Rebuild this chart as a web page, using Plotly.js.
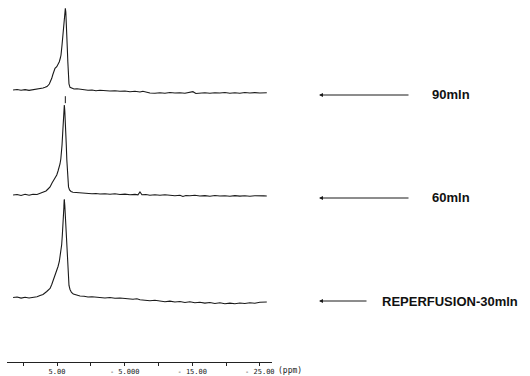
<!DOCTYPE html>
<html><head><meta charset="utf-8">
<script src="https://cdn.plot.ly/plotly-3.0.1.min.js"></script>
<style>html,body{margin:0;padding:0;background:#fff;}#plot{width:530px;height:376px;}</style>
</head><body><div id="plot"></div>
<script>
// Spectrum labels
const labels = ["90mln", "60mln", "REPERFUSION-30mln"];

// Top spectrum (90 min): chemical shift (ppm) and intensity (arbitrary units)
const ppm90 = [11.50,10.91,10.32,9.73,9.14,8.55,7.96,7.51,7.07,6.77,6.48,6.14,5.93,5.78,5.64,5.44,5.30,5.04,4.85,4.66,4.51,4.41,4.26,4.16,4.07,3.97,3.86,3.77,3.70,3.63,3.55,3.48,3.40,3.33,3.23,3.08,2.83,2.49,2.04,1.60,1.01,0.42,-0.17,-0.76,-1.35,-2.09,-2.83,-3.57,-4.31,-5.05,-5.79,-6.53,-7.27,-7.71,-8.15,-8.74,-9.48,-10.22,-10.96,-11.70,-12.44,-13.18,-13.92,-14.65,-15.10,-15.54,-16.13,-16.87,-17.61,-18.35,-19.09,-19.83,-20.57,-21.31,-22.04,-22.78,-23.52,-24.26,-25.00,-25.59,-26.03];
const int90 = [0,0.5,-0.3,0.4,-0.4,0.2,0.7,1.3,2,2.7,3.5,6,9,11.7,15,20,21.7,23.3,25.5,28.3,32,35,45,53.3,65,72,78,81.7,78,70,55,42,28,14,6,2.7,1.7,1,1.3,0.7,0.3,-0.3,0,-0.7,-0.3,-0.8,-1,-0.7,-1.3,-1,-1.7,-1.3,-2,-1.2,-2.3,-3,-3.3,-2.7,-3.3,-2.5,-3,-2.7,-3.3,-2.3,-1.7,-3.5,-3,-2.7,-3.3,-2.7,-3,-2.5,-3.3,-2.7,-3.2,-2.5,-3,-2.6,-3,-2.7,-2.8];

// Middle spectrum (60 min)
const ppm60 = [11.50,10.91,10.32,9.73,9.14,8.55,7.96,7.51,7.07,6.63,6.33,6.03,5.74,5.55,5.30,5.04,4.85,4.70,4.56,4.44,4.34,4.26,4.16,4.08,4.01,3.92,3.85,3.77,3.70,3.63,3.55,3.48,3.40,3.30,3.15,2.93,2.64,2.19,1.60,1.01,0.42,-0.17,-0.76,-1.35,-2.09,-2.83,-3.57,-4.31,-5.05,-5.79,-6.53,-6.97,-7.27,-7.56,-8.15,-8.74,-9.48,-10.22,-10.96,-11.70,-12.44,-13.18,-13.62,-14.06,-14.65,-15.39,-16.13,-16.87,-17.61,-18.35,-19.09,-19.83,-20.57,-21.31,-22.04,-22.78,-23.52,-24.26,-25.00,-25.59,-26.03];
const int60 = [0,0.5,-0.5,0.7,-0.3,0.8,0.5,1.5,2.5,4,6,8,12,14,17,20,24,27,31,36,42,50,62,75,82,90,84,75,62,50,35,22,14,8,5,3.5,2.8,2.5,2.8,2.2,2,1.2,1.5,1,1.3,0.7,1.2,0.5,0.9,0.3,0.6,0.2,3,0.3,0.5,-0.2,0.3,-0.3,0.2,-0.5,-0.8,-0.3,-1.5,-0.5,-0.8,-0.3,-1,-0.6,-1.2,-0.5,-1,-0.7,-1.3,-0.6,-1.1,-0.8,-1.3,-0.7,-1.2,-0.9,-1];

// Bottom spectrum (reperfusion 30 min)
const ppm30 = [11.50,10.91,10.32,9.73,9.14,8.55,7.96,7.51,7.07,6.52,6.03,5.78,5.55,5.30,5.04,4.85,4.66,4.51,4.41,4.31,4.22,4.14,4.07,4.00,3.92,3.85,3.77,3.70,3.63,3.55,3.48,3.40,3.33,3.23,3.08,2.86,2.59,2.09,1.60,1.01,0.42,-0.17,-0.76,-1.35,-2.09,-2.83,-3.57,-4.31,-5.05,-5.79,-6.23,-6.82,-7.27,-8.00,-8.74,-9.48,-10.22,-10.96,-11.70,-12.44,-13.18,-13.92,-14.65,-15.39,-16.13,-16.87,-17.61,-18.35,-19.09,-19.83,-20.57,-21.31,-22.04,-22.78,-23.52,-24.26,-25.00,-25.59,-26.03];
const int30 = [0,0.5,-0.6,0.3,-0.5,0,0.8,2,3,6,9,13,17,23,27,31,36,42,48,53,62,72,82,92,98,92,82,72,63,54,42,30,19,12,8,5,3.5,2.5,1.5,1.2,0.5,0.8,0.2,0.3,-0.5,0,-0.8,-0.5,-1.2,-1.5,-1.8,-1.3,-2.3,-2.8,-3.2,-2.7,-3.8,-4.3,-3.6,-4.5,-4,-5,-4.2,-5.3,-4.8,-5.6,-5,-6,-5.3,-6.2,-5.6,-6.3,-5.5,-6,-5.3,-5.8,-4.8,-5,-4.5];

// Small reference marks under the peaks (ppm, intensity)
const markPpm = [3.77, 3.92];
const markInt = [-9.7, -8];

// X axis ticks
const tickVals = [10, 5, 0, -5, -10, -15, -20, -25];
const tickText = ["", "5.00", "", "- 5.000", "", "- 15.00", "", "- 25.00"];

const W = 530, H = 376;
const lineStyle = {color: '#1a1a1a', width: 1.1};

const traces = [
  {x: ppm90, y: int90, xaxis: 'x', yaxis: 'y', type: 'scatter', mode: 'lines', line: lineStyle, hoverinfo: 'skip'},
  {x: ppm60, y: int60, xaxis: 'x', yaxis: 'y2', type: 'scatter', mode: 'lines', line: lineStyle, hoverinfo: 'skip'},
  {x: ppm30, y: int30, xaxis: 'x', yaxis: 'y3', type: 'scatter', mode: 'lines', line: lineStyle, hoverinfo: 'skip'},
  {x: [markPpm[0]], y: [markInt[0]], xaxis: 'x', yaxis: 'y', type: 'scatter', mode: 'markers', cliponaxis: false,
   marker: {symbol: 'line-ns', size: 5, line: {color: '#1a1a1a', width: 1}}, hoverinfo: 'skip'},
  {x: [markPpm[1]], y: [markInt[1]], xaxis: 'x', yaxis: 'y2', type: 'scatter', mode: 'markers', cliponaxis: false,
   marker: {symbol: 'line-ns', size: 5, line: {color: '#1a1a1a', width: 1}}, hoverinfo: 'skip'}
];

function yax(range, top, bottom) {
  return {range: range, domain: [1 - bottom / H, 1 - top / H], visible: false, fixedrange: true, anchor: 'x'};
}

const arrowY = [95, 198, 301];
const arrowX0 = [319, 319, 319];
const arrowX1 = [410, 410, 368];
const textX = [430, 430, 380];

const annotations = [];
for (let i = 0; i < 3; i++) {
  annotations.push({
    xref: 'paper', yref: 'paper', x: arrowX0[i] / W, y: 1 - arrowY[i] / H,
    ax: arrowX1[i] - arrowX0[i], ay: 0, axref: 'pixel', ayref: 'pixel',
    text: '', showarrow: true, arrowhead: 2, arrowsize: 0.8, arrowwidth: 1, arrowcolor: '#1a1a1a'
  });
  annotations.push({
    xref: 'paper', yref: 'paper', x: textX[i] / W, y: 1 - arrowY[i] / H,
    xanchor: 'left', yanchor: 'middle', showarrow: false, text: labels[i],
    font: {family: 'Liberation Sans, Arial, sans-serif', size: 13, color: '#111', weight: 'bold'}
  });
}
annotations.push({
  xref: 'paper', yref: 'paper', x: 276 / W, y: 1 - 370 / H, xanchor: 'left', yanchor: 'middle',
  showarrow: false, text: '(ppm)', font: {family: 'DejaVu Sans Mono, monospace', size: 8, color: '#222'}
});

const layout = {
  width: W, height: H,
  margin: {l: 0, r: 0, t: 0, b: 0},
  paper_bgcolor: '#fff', plot_bgcolor: 'rgba(0,0,0,0)',
  showlegend: false,
  xaxis: {
    range: [12.4, -26.8], domain: [7 / W, 272 / W], anchor: 'free', position: 1 - 362 / H,
    showline: true, linecolor: '#222', linewidth: 1, showgrid: false, zeroline: false,
    ticks: 'outside', ticklen: 3, tickcolor: '#222', tickwidth: 1,
    tickmode: 'array', tickvals: tickVals, ticktext: tickText,
    tickfont: {family: 'DejaVu Sans Mono, monospace', size: 7, color: '#222'},
    fixedrange: true, automargin: false
  },
  yaxis: yax([-14, 90], 0, 104),
  yaxis2: yax([-14, 95], 100, 209),
  yaxis3: yax([-12, 103], 194.5, 309.5),
  annotations: annotations
};

Plotly.newPlot('plot', traces, layout, {staticPlot: true, displayModeBar: false});
</script>
</body></html>
